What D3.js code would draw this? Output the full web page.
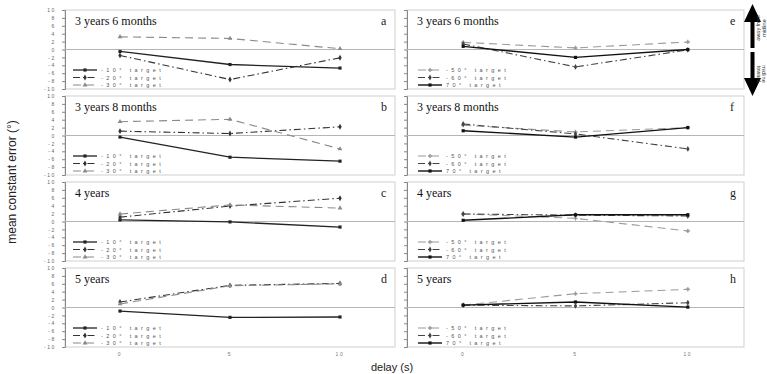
<!DOCTYPE html>
<html>
<head>
<meta charset="utf-8">
<script src="https://cdn.jsdelivr.net/npm/d3@7/dist/d3.min.js"></script>
<style>
  html, body { margin: 0; padding: 0; background: #fff; }
  svg { display: block; }
  text.spc { white-space: pre; }
</style>
</head>
<body>
<svg id="chart" width="767" height="374"></svg>
<script>
// Ages (one row of panels each), delays (x categories), panel letters
const ages = ["3 years 6 months", "3 years 8 months", "4 years", "5 years"];
const delays = [0, 5, 10];
const lettersLeft = ["a", "b", "c", "d"];
const lettersRight = ["e", "f", "g", "h"];
const yTicks = [-10, -8, -6, -4, -2, 0, 2, 4, 6, 8, 10];

// Left column: mean constant error (°) per age, values at delay 0, 5, 10 s
const leftNames = ["-10° target", "-20° target", "-30° target"];
const minus10 = [[-0.5, -3.8, -4.7], [-0.4, -5.5, -6.5], [0.4, -0.1, -1.4], [-0.9, -2.5, -2.4]];
const minus20 = [[-1.5, -7.6, -2.1], [1.1, 0.5, 2.2], [1.1, 3.9, 5.9], [1.4, 5.6, 6.1]];
const minus30 = [[3.2, 2.8, 0.2], [3.5, 4.1, -3.4], [1.9, 4.2, 3.4], [0.9, 5.5, 6.0]];

// Right column
const rightNames = ["-50° target", "-60° target", "70° target"];
const minus50 = [[1.8, 0.4, 1.9], [2.6, 0.9, 2.0], [1.9, 0.8, -2.4], [0.6, 3.5, 4.6]];
const minus60 = [[1.4, -4.4, -0.1], [2.9, 0.4, -3.4], [1.9, 1.6, 1.4], [0.6, 0.4, 1.2]];
const plus70 = [[0.8, -2.0, 0.0], [1.2, -0.4, 2.0], [0.3, 1.7, 1.7], [0.6, 1.4, 0.1]];

const styles = [
  { stroke: "#222", dash: null, width: 1.3, symbol: d3.symbolSquare },
  { stroke: "#333", dash: "7,3,1.5,3", width: 1.1, symbol: d3.symbolDiamond },
  { stroke: "#8a8a8a", dash: "8,5", width: 1.1, symbol: d3.symbolTriangle }
];
const stylesRight = [
  { stroke: "#9a9a9a", dash: "8,5", width: 1.1, symbol: d3.symbolCross },
  { stroke: "#444", dash: "7,3,1.5,3", width: 1.1, symbol: d3.symbolDiamond },
  { stroke: "#111", dash: null, width: 1.4, symbol: d3.symbolSquare }
];

const svg = d3.select("#chart");
const FONT = "Liberation Sans, Arial, sans-serif";
const SERIF = "Liberation Serif, Times New Roman, serif";

const panelTops = [10, 96, 182, 268];
const panelH = 79;
const cols = [
  { x0: 65, x1: 395, names: leftNames, series: [minus10, minus20, minus30], st: styles, letters: lettersLeft, labels: true, legendX: 73 },
  { x0: 407, x1: 744, names: rightNames, series: [minus50, minus60, plus70], st: stylesRight, letters: lettersRight, labels: false, legendX: 418 }
];

cols.forEach(col => {
  const x = d3.scalePoint().domain(delays).range([col.x0, col.x1]).padding(0.5);
  panelTops.forEach((top, pi) => {
    const y = d3.scaleLinear().domain([-10, 10]).range([top + panelH, top]);
    const g = svg.append("g");

    // frame
    g.append("rect")
      .attr("x", col.x0).attr("y", top)
      .attr("width", col.x1 - col.x0).attr("height", panelH)
      .attr("fill", "none").attr("stroke", "#cfcfcf").attr("stroke-width", 1);

    // y axis
    const ax = g.append("g").attr("transform", `translate(${col.x0},0)`)
      .call(d3.axisLeft(y).tickValues(yTicks).tickSize(3).tickPadding(6)
        .tickFormat(d => col.labels ? String(d) : ""));
    ax.select(".domain").attr("stroke", "#888");
    ax.selectAll(".tick line").attr("stroke", "#888");
    ax.selectAll("text").attr("font-size", 5).attr("fill", "#666")
      .attr("letter-spacing", 1.6).attr("font-family", FONT);

    // zero line
    g.append("line")
      .attr("x1", col.x0).attr("x2", col.x1)
      .attr("y1", y(0)).attr("y2", y(0))
      .attr("stroke", "#b5b5b5").attr("stroke-width", 1);

    // title and letter
    g.append("text").attr("x", col.x0 + 10).attr("y", top + 15)
      .attr("font-family", SERIF)
      .attr("font-size", 12).attr("fill", "#111").text(ages[pi]);
    g.append("text").attr("x", col.x1 - 14).attr("y", top + 15)
      .attr("font-family", SERIF)
      .attr("font-size", 12).attr("fill", "#222").text(col.letters[pi]);

    // series
    const line = d3.line().x((d, i) => x(delays[i])).y(d => y(d));
    col.series.forEach((s, si) => {
      const st = col.st[si];
      const vals = s[pi];
      g.append("path").datum(vals).attr("d", line)
        .attr("fill", "none").attr("stroke", st.stroke)
        .attr("stroke-width", st.width)
        .attr("stroke-dasharray", st.dash);
      g.selectAll(null).data(vals).enter().append("path")
        .attr("transform", (d, i) => `translate(${x(delays[i])},${y(d)})`)
        .attr("d", d3.symbol().type(st.symbol).size(10))
        .attr("fill", st.stroke).attr("stroke", "none");
    });

    // legend
    col.names.forEach((name, si) => {
      const st = col.st[si];
      const ly = top + 60 + si * 7.5;
      const lx = col.legendX;
      g.append("line").attr("x1", lx).attr("x2", lx + 24)
        .attr("y1", ly).attr("y2", ly)
        .attr("stroke", st.stroke).attr("stroke-width", st.width)
        .attr("stroke-dasharray", st.dash);
      g.append("path").attr("transform", `translate(${lx + 12},${ly})`)
        .attr("d", d3.symbol().type(st.symbol).size(10)).attr("fill", st.stroke);
      g.append("text").attr("class", "spc").attr("x", lx + 28).attr("y", ly + 2)
        .attr("font-family", FONT)
        .attr("font-size", 5.5).attr("fill", "#555")
        .attr("letter-spacing", 3.4)
        .text(name);
    });

    // x tick labels under bottom row
    if (pi === panelTops.length - 1) {
      g.selectAll(null).data(delays).enter().append("text")
        .attr("x", d => x(d)).attr("y", top + panelH + 9)
        .attr("text-anchor", "middle")
        .attr("font-family", FONT)
        .attr("font-size", 5).attr("fill", "#777")
        .attr("letter-spacing", 1.6)
        .text(d => String(d));
    }
  });
});

// axis titles
svg.append("text")
  .attr("transform", "translate(16,182) rotate(-90)")
  .attr("text-anchor", "middle")
  .attr("font-family", FONT)
  .attr("font-size", 12).attr("fill", "#222")
  .text("mean constant error (°)");
svg.append("text")
  .attr("x", 392).attr("y", 371)
  .attr("text-anchor", "middle")
  .attr("font-family", FONT)
  .attr("font-size", 11).attr("fill", "#222")
  .text("delay (s)");

// direction arrows on the right
const arrows = svg.append("g").attr("fill", "#000");
arrows.append("path").attr("d", "M750.5,48 L750.5,22 L744,22 L752.5,4 L761,22 L754.5,22 L754.5,48 Z");
arrows.append("path").attr("d", "M750.5,52 L750.5,78 L744,78 L752.5,96 L761,78 L754.5,78 L754.5,52 Z");
const arrowText = [
  { t: "away from", x: 760, y: 28, r: -90 },
  { t: "midline", x: 765.5, y: 28, r: -90 },
  { t: "toward", x: 756.5, y: 74, r: 90 },
  { t: "midline", x: 762, y: 74, r: 90 }
];
svg.selectAll(null).data(arrowText).enter().append("text")
  .attr("transform", d => `translate(${d.x},${d.y}) rotate(${d.r})`)
  .attr("text-anchor", "middle").attr("font-family", FONT)
  .attr("font-size", 5.5).attr("fill", "#333").text(d => d.t);
</script>
</body>
</html>
